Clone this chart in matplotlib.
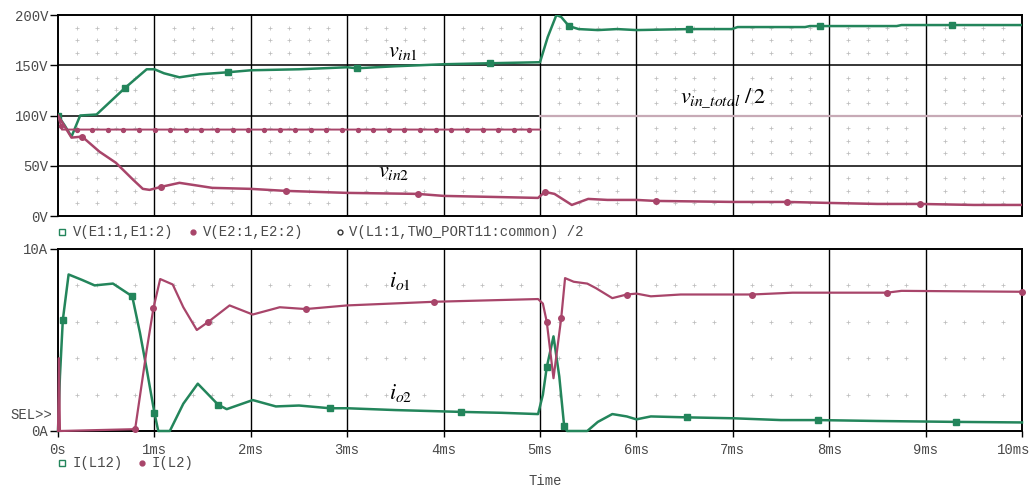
import numpy as np
import matplotlib
matplotlib.use("Agg")
import matplotlib.pyplot as plt
from matplotlib.lines import Line2D
import matplotlib.transforms as mtransforms

# ---------------- data ----------------
# upper panel: voltages [V] vs time [ms]
t_vin1 = [0.00, 0.07, 0.14, 0.23, 0.40, 0.69, 0.92, 1.00, 1.10, 1.26, 1.47, 1.76, 2.00, 2.50, 3.00,
          3.10, 3.50, 4.00, 4.48, 5.00, 5.08, 5.17, 5.22, 5.30, 5.40, 5.60, 5.80, 6.00, 6.55, 6.99,
          7.05, 7.75, 7.80, 7.90, 8.70, 8.75, 9.27, 10.00]
v_in1 = [100, 90, 79, 100, 101, 127, 146, 146, 142, 138, 141, 143, 145, 146, 148,
         147, 149, 151, 152, 153, 178, 200, 198, 189, 186, 185, 186, 185, 186, 186,
         188, 188, 189, 189, 189, 190, 190, 190]
vin1_marks = [0.00, 0.69, 1.76, 3.10, 4.48, 5.30, 6.55, 7.90, 9.27]

t_vin2 = [0.00, 0.14, 0.25, 0.43, 0.60, 0.78, 0.88, 0.95, 1.07, 1.26, 1.60, 2.00, 2.36, 3.00, 3.73,
          4.00, 4.50, 4.98, 5.05, 5.15, 5.33, 5.50, 5.70, 6.00, 6.20, 7.00, 7.56, 8.00, 8.50, 8.94,
          9.50, 10.00]
v_in2 = [100, 78, 79, 64, 53, 36, 27, 26, 29, 33, 28, 27, 25, 23, 22,
         20, 19, 18, 24, 22, 11, 17, 16, 16, 15, 14, 14, 13, 12, 12,
         11, 11]
vin2_marks = [0.25, 1.07, 2.36, 3.73, 5.05, 6.20, 7.56, 8.94]

t_vtot = [0.00, 0.04, 5.00, 5.00, 10.00]
v_tot = [100, 86, 86, 100, 100]
VTOT_SPLIT = 3          # first part drawn with markers, second part light

# lower panel: currents [A] vs time [ms]
t_il12 = [0.00, 0.02, 0.05, 0.11, 0.25, 0.38, 0.57, 0.77, 0.85, 0.92, 1.00, 1.04, 1.16, 1.30, 1.45,
          1.66, 1.75, 2.02, 2.26, 2.50, 2.82, 3.00, 3.50, 4.18, 4.60, 4.98, 5.03, 5.07, 5.14, 5.20,
          5.25, 5.28, 5.49, 5.60, 5.75, 5.90, 6.00, 6.15, 6.52, 7.00, 7.50, 7.88, 8.50, 9.32, 10.00]
i_l12 = [0.0, 3.0, 6.1, 8.6, 8.3, 8.0, 8.1, 7.4, 5.4, 3.4, 1.0, 0.0, 0.0, 1.5, 2.6,
         1.45, 1.2, 1.7, 1.35, 1.4, 1.25, 1.25, 1.15, 1.05, 1.0, 0.93, 2.0, 3.5, 5.2, 3.0,
         0.3, 0.0, 0.0, 0.5, 0.93, 0.8, 0.64, 0.8, 0.75, 0.7, 0.6, 0.6, 0.55, 0.5, 0.47]
il12_marks = [0.05, 0.77, 1.00, 1.66, 2.82, 4.18, 5.07, 5.25, 6.52, 7.88, 9.32]

t_il2 = [0.00, 0.01, 0.02, 0.80, 0.92, 0.99, 1.06, 1.19, 1.30, 1.44, 1.56, 1.78, 2.02, 2.30, 2.57,
         3.00, 3.90, 4.98, 5.03, 5.07, 5.14, 5.22, 5.26, 5.35, 5.49, 5.58, 5.75, 5.90, 6.00, 6.15,
         6.46, 7.20, 7.62, 8.60, 8.75, 10.00]
i_l2 = [0.0, 4.0, 0.0, 0.1, 4.45, 6.75, 8.35, 8.05, 6.8, 5.55, 6.0, 6.9, 6.4, 6.8, 6.7,
        6.9, 7.1, 7.25, 7.0, 6.0, 2.9, 6.2, 8.4, 8.2, 8.1, 7.85, 7.3, 7.5, 7.55, 7.4,
        7.5, 7.5, 7.6, 7.6, 7.7, 7.65]
il2_marks = [0.80, 0.99, 1.56, 2.57, 3.90, 5.07, 5.22, 5.90, 7.20, 8.60, 10.00]

x_ticks = list(range(0, 11))
x_labels = ["0s"] + [f"{k}ms" for k in range(1, 11)]
v_ticks = [0, 50, 100, 150, 200]
v_labels = ["0V", "50V", "100V", "150V", "200V"]
a_ticks = [0, 10]
a_labels = ["0A", "10A"]

legend_top = ["V(E1:1,E1:2)", "V(E2:1,E2:2)", "V(L1:1,TWO_PORT11:common) /2"]
legend_bot = ["I(L12)", "I(L2)"]

# ---------------- style ----------------
GREEN = "#23855b"
PINK = "#a8456a"
LIGHT = "#c7aab6"
TXT = "#4a4a4a"
MONO = ["Liberation Mono", "DejaVu Sans Mono"]
plt.rcParams["mathtext.fontset"] = "stix"
plt.rcParams["font.family"] = ["STIXGeneral", "DejaVu Serif"]

W, H = 1033, 488
fig = plt.figure(figsize=(W / 100, H / 100), dpi=100)


def box(l, t, r, b):
    return [l / W, 1 - b / H, (r - l) / W, (b - t) / H]


ax1 = fig.add_axes(box(58, 15, 1022, 216))
ax2 = fig.add_axes(box(58, 249, 1022, 431))


def marks_idx(t, marks):
    return [t.index(m) for m in marks]


def style(ax, yticks, ylabels, ymin, ymax, minor_y, hgrid):
    ax.set_xlim(0, 10)
    ax.set_ylim(ymin, ymax)
    ax.set_xticks(x_ticks)
    ax.set_yticks(yticks)
    ax.set_yticklabels(ylabels, family=MONO, fontsize=10, color=TXT)
    for s in ax.spines.values():
        s.set_color("black")
        s.set_linewidth(1.4)
    ax.tick_params(axis="y", direction="out", length=6, width=1.0, pad=1)
    for x in x_ticks[1:-1]:
        ax.axvline(x, color="black", lw=1.0, zorder=1)
    if hgrid:
        for y in yticks[1:-1]:
            ax.axhline(y, color="black", lw=1.1, zorder=1)
    mx = [x / 5 for x in range(0, 51) if x % 5 != 0]
    gx, gy = np.meshgrid(mx, minor_y)
    ax.plot(gx.ravel(), gy.ravel(), ls="none", marker="+", ms=2.2, mew=0.55,
            color="#bdbdbd", zorder=0.5)


style(ax1, v_ticks, v_labels, 0, 200,
      [v for v in np.arange(12.5, 200, 12.5) if v % 50 != 0], True)
style(ax2, a_ticks, a_labels, 0, 10, [2, 4, 6, 8], False)

ax1.tick_params(axis="x", length=0, labelbottom=False)
ax2.set_xticklabels(x_labels, family=MONO, fontsize=10, color=TXT)
ax2.tick_params(axis="x", direction="out", length=4, width=1.0, pad=5)
last = ax2.get_xticklabels()[-1]
last.set_horizontalalignment("right")
last.set_transform(last.get_transform() +
                   mtransforms.ScaledTranslation(8 / 100, 0, fig.dpi_scale_trans))

# ---------------- traces ----------------
ax1.plot(t_vin1, v_in1, color=GREEN, lw=1.8, marker="s", ms=5,
         markevery=marks_idx(t_vin1, vin1_marks), zorder=3)
ax1.plot(t_vin2, v_in2, color=PINK, lw=1.8, marker="o", ms=4,
         markevery=marks_idx(t_vin2, vin2_marks), zorder=3)
ax1.plot(t_vtot[:VTOT_SPLIT], v_tot[:VTOT_SPLIT], color=PINK, lw=1.4, zorder=3)
ax1.plot(t_vtot[VTOT_SPLIT:], v_tot[VTOT_SPLIT:], color=LIGHT, lw=1.6, zorder=3)
# PSpice symbol markers along the first part of the V(L1)/2 trace (decoration only)
MARK_STEP = 0.162
mt = np.arange(0.03, t_vtot[VTOT_SPLIT - 1], MARK_STEP)
ax1.plot(mt, np.interp(mt, t_vtot[:VTOT_SPLIT], v_tot[:VTOT_SPLIT]), ls="none",
         marker="o", ms=2.8, color=PINK, zorder=3)

ax2.plot(t_il12, i_l12, color=GREEN, lw=1.8, marker="s", ms=5,
         markevery=marks_idx(t_il12, il12_marks), zorder=3, clip_on=False)
ax2.plot(t_il2, i_l2, color=PINK, lw=1.6, marker="o", ms=4,
         markevery=marks_idx(t_il2, il2_marks), zorder=3, clip_on=False)

# ---------------- annotations ----------------
FS = 16
ax1.text(3.42, 158, r"$v_{in1}$", fontsize=FS, ha="left", va="baseline")
ax1.text(3.32, 39, r"$v_{in2}$", fontsize=FS, ha="left", va="baseline")
ax1.text(6.45, 113, r"$v_{in\_total}\ /\, 2$", fontsize=FS, ha="left", va="baseline")
ax2.text(3.43, 7.9, r"$i_{o1}$", fontsize=FS, ha="left", va="baseline")
ax2.text(3.43, 1.76, r"$i_{o2}$", fontsize=FS, ha="left", va="baseline")

# ---------------- legends & misc text ----------------
def fx(px):
    return px / W


def fy(py):
    return 1 - py / H


def legend_row(y, items):
    for (mx_, tx, marker, col, fill), label in items:
        fig.add_artist(Line2D([fx(mx_)], [fy(y)], marker=marker, ms=4.5 if marker == "s" else 3.5,
                              mfc=fill, mec=col, mew=1.0, ls="none", transform=fig.transFigure))
        fig.text(fx(tx), fy(y), label, family=MONO, fontsize=10, color=TXT,
                 ha="left", va="center")


legend_row(232, [((62, 73, "s", GREEN, "none"), legend_top[0]),
                 ((193, 203, "o", PINK, PINK), legend_top[1]),
                 ((340, 349, "o", "#333333", "none"), legend_top[2])])
legend_row(463, [((62, 73, "s", GREEN, "none"), legend_bot[0]),
                 ((142, 152, "o", PINK, PINK), legend_bot[1])])

fig.text(fx(52), fy(415), "SEL>>", family=MONO, fontsize=10, color=TXT, ha="right", va="center")
fig.text(fx(545), fy(481), "Time", family=MONO, fontsize=10, color=TXT, ha="center", va="center")

fig.savefig("out.png", dpi=100)
